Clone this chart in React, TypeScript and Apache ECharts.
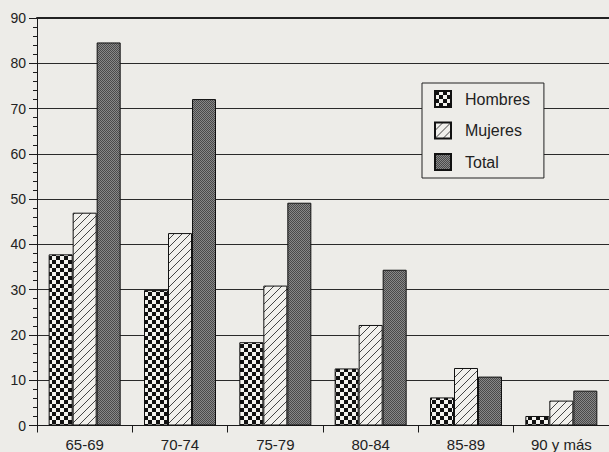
import React, { useEffect, useRef } from 'react';
import * as echarts from 'echarts';

const categories = ['65-69', '70-74', '75-79', '80-84', '85-89', '90 y más'];
const seriesNames = ['Hombres', 'Mujeres', 'Total'];
const hombres = [37.8, 29.9, 18.4, 12.6, 6.2, 2.1];
const mujeres = [47.0, 42.5, 30.9, 22.2, 12.7, 5.5];
const total = [84.6, 72.1, 49.2, 34.4, 10.8, 7.7];
const yMin = 0;
const yMax = 90;
const yStep = 10;

const BG = '#edece8';
const INK = '#1a1a1a';
const FONT = '"Liberation Sans", Arial, Helvetica, sans-serif';

function makePattern(w: number, h: number, draw: (ctx: CanvasRenderingContext2D) => void) {
  const c = document.createElement('canvas');
  c.width = w;
  c.height = h;
  const ctx = c.getContext('2d') as CanvasRenderingContext2D;
  draw(ctx);
  return { image: c, repeat: 'repeat', imageWidth: w, imageHeight: h } as any;
}

export default function App() {
  const ref = useRef<HTMLDivElement>(null);
  useEffect(() => {
    if (!ref.current) return;
    const chart = echarts.init(ref.current, undefined, { renderer: 'svg' });

    const checker = makePattern(8, 8, (ctx) => {
      ctx.fillStyle = '#f3f2ee';
      ctx.fillRect(0, 0, 8, 8);
      ctx.fillStyle = '#111111';
      ctx.fillRect(0, 0, 4, 4);
      ctx.fillRect(4, 4, 4, 4);
    });
    const hatch = makePattern(8, 8, (ctx) => {
      ctx.fillStyle = '#f1f0ec';
      ctx.fillRect(0, 0, 8, 8);
      ctx.strokeStyle = '#444444';
      ctx.lineWidth = 1;
      for (let k = -1; k <= 1; k++) {
        ctx.beginPath();
        ctx.moveTo(k * 8, 8);
        ctx.lineTo(k * 8 + 8, 0);
        ctx.stroke();
      }
    });
    const stipple = makePattern(2, 2, (ctx) => {
      ctx.fillStyle = '#888888';
      ctx.fillRect(0, 0, 2, 2);
      ctx.fillStyle = '#4a4a4a';
      ctx.fillRect(0, 0, 1, 1);
      ctx.fillRect(1, 1, 1, 1);
    });

    const fills = [checker, hatch, stipple];
    const values = [hombres, mujeres, total];

    chart.setOption({
      animation: false,
      backgroundColor: BG,
      textStyle: { fontFamily: FONT, color: '#222' },
      grid: { left: 37, right: -3, top: 18, bottom: 26.5, containLabel: false },
      legend: {
        orient: 'vertical',
        left: 422,
        top: 83,
        data: seriesNames,
        icon: 'rect',
        itemWidth: 16,
        itemHeight: 16,
        itemGap: 13.5,
        padding: [7, 14, 7, 12],
        backgroundColor: BG,
        borderColor: '#222',
        borderWidth: 1,
        textStyle: {
          fontSize: 16,
          lineHeight: 16,
          color: '#222',
          fontFamily: FONT,
          padding: [0, 0, 0, 9],
        },
      },
      xAxis: [
        {
          type: 'category',
          data: categories,
          position: 'bottom',
          axisLine: { lineStyle: { color: INK, width: 1 } },
          axisTick: { show: true, length: 7, lineStyle: { color: INK } },
          axisLabel: { fontSize: 15, color: '#222', margin: 11, fontFamily: FONT },
          splitLine: { show: false },
        },
        {
          type: 'category',
          data: categories,
          position: 'top',
          axisLine: { lineStyle: { color: '#222', width: 2 } },
          axisTick: { show: false },
          axisLabel: { show: false },
          splitLine: { show: false },
        },
      ],
      yAxis: {
        type: 'value',
        min: yMin,
        max: yMax,
        interval: yStep,
        axisLine: { show: true, lineStyle: { color: INK } },
        axisTick: { show: true, length: 8, lineStyle: { color: INK } },
        minorTick: { show: true, splitNumber: 5, length: 4, lineStyle: { color: INK } },
        axisLabel: { fontSize: 14, color: '#222', margin: 11, fontFamily: FONT },
        splitLine: { show: true, lineStyle: { color: '#2a2a2a', width: 1 } },
      },
      series: seriesNames.map((name, i) => ({
        name,
        type: 'bar',
        xAxisIndex: 0,
        data: values[i],
        barWidth: 24,
        barGap: '0%',
        itemStyle: { color: fills[i], borderColor: '#111', borderWidth: 1 },
      })),
    });

    return () => chart.dispose();
  }, []);

  return (
    <div
      ref={ref}
      style={{ position: 'absolute', left: 0, top: 0, width: 609, height: 452 }}
    />
  );
}
